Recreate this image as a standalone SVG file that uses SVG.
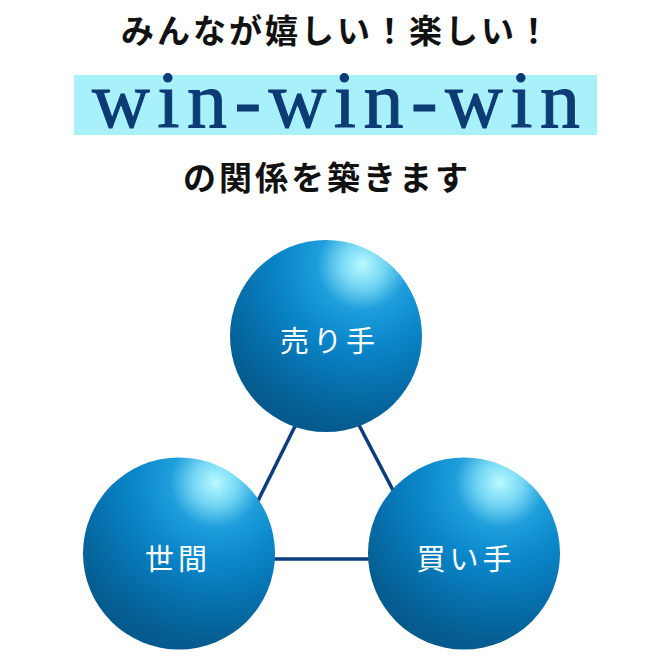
<svg xmlns="http://www.w3.org/2000/svg" width="670" height="660" viewBox="0 0 670 660">
  <defs>
    <radialGradient id="sphere" cx="0.69" cy="0.13" r="0.98" fx="0.69" fy="0.13">
      <stop offset="0" stop-color="#b8faff"/>
      <stop offset="0.12" stop-color="#74d6f4"/>
      <stop offset="0.24" stop-color="#1f9edb"/>
      <stop offset="0.42" stop-color="#0a88cb"/>
      <stop offset="0.65" stop-color="#0670ac"/>
      <stop offset="0.85" stop-color="#055d90"/>
      <stop offset="1" stop-color="#04568a"/>
    </radialGradient>
    <style>
      .head { font-family: "Noto Sans CJK JP", "Noto Sans", sans-serif; font-weight: 700; font-size: 33px; letter-spacing: 3px; fill: #111111; }
      .win { font-family: "Liberation Serif", "DejaVu Serif", serif; font-size: 80px; fill: #0d3b73; stroke: #0d3b73; stroke-width: 1; }
      .label { font-family: "Noto Sans CJK JP", "Noto Sans", sans-serif; font-weight: 400; font-size: 29px; letter-spacing: 4px; fill: #ffffff; text-anchor: middle; }
      .link { stroke: #0b3d7c; stroke-width: 3.5; fill: none; }
      .ball { fill: url(#sphere); }
    </style>
  </defs>
  <rect width="670" height="660" fill="#ffffff"/>

  <g id="title">
    <text class="head" x="121" y="43">みんなが嬉しい！楽しい！</text>
    <rect x="74" y="75" width="523" height="60" fill="#a8f1fb"/>
    <text class="win" x="92" y="127" textLength="488" lengthAdjust="spacing">win-win-win</text>
    <text class="head" x="183" y="190">の関係を築きます</text>
  </g>

  <g id="connectors">
    <line class="link" x1="326.5" y1="363" x2="229" y2="559"/>
    <line class="link" x1="326.5" y1="363" x2="429" y2="559"/>
    <line class="link" x1="229" y1="559" x2="429" y2="559"/>
  </g>

  <g id="node-seller">
    <circle class="ball" cx="326" cy="336" r="96"/>
    <text class="label" x="329.5" y="352">売り手</text>
  </g>

  <g id="node-public">
    <circle class="ball" cx="179" cy="553.5" r="96"/>
    <text class="label" x="178" y="570">世間</text>
  </g>

  <g id="node-buyer">
    <circle class="ball" cx="464" cy="553.5" r="96"/>
    <text class="label" x="466" y="570">買い手</text>
  </g>
</svg>
